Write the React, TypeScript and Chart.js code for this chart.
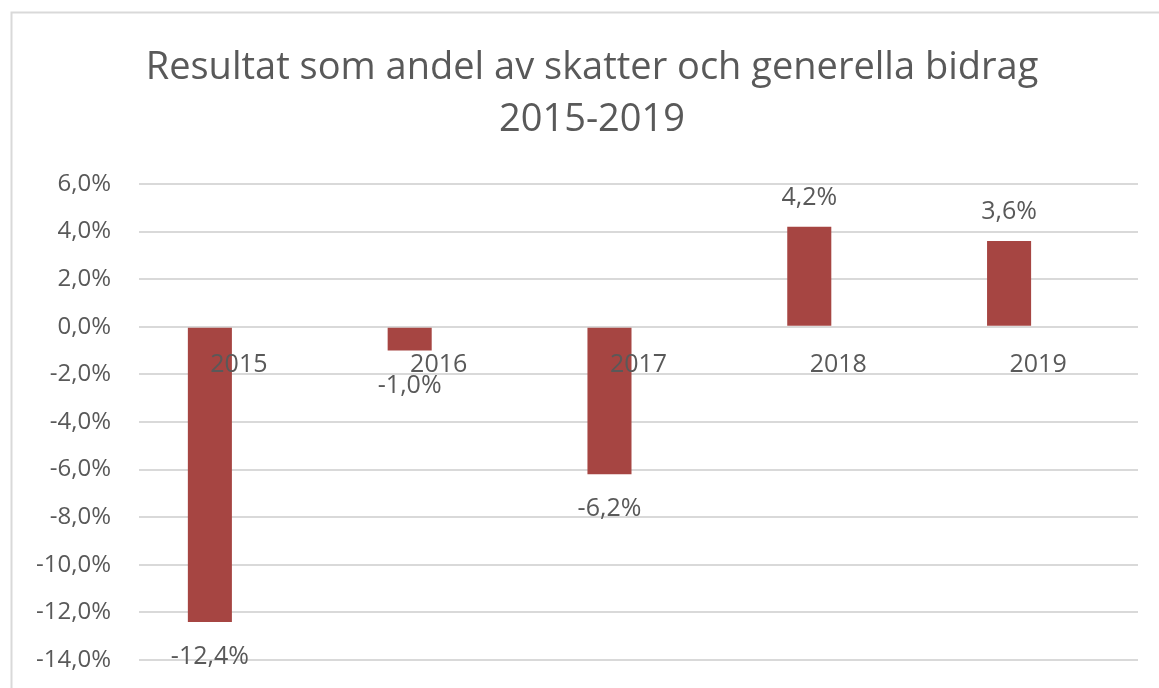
import React, { useEffect, useRef } from "react";
import { Chart, registerables } from "chart.js";

Chart.register(...registerables);

const categories = ["2015", "2016", "2017", "2018", "2019"];
const resultValues = [-12.4, -1.0, -6.2, 4.2, 3.6];
const emptySeries = [null, null, null, null, null];
const titleLines = ["Resultat som andel av skatter och generella bidrag", "2015-2019"];
const yMin = -14;
const yMax = 6;
const yStep = 2;

const TEXT = "#595959";
const GRID = "#D9D9D9";
const BAR = "#A64542";
const FONT = "'Open Sans', 'Noto Sans', sans-serif";

const fmt = (v: number) => v.toFixed(1).replace(".", ",") + "%";

const framePlugin = {
  id: "frame",
  afterLayout(chart: any) {
    // centre the title over the same span as the original (Excel) chart title
    if (chart.titleBlock) {
      chart.titleBlock.left = 46;
      chart.titleBlock.right = 1138;
    }
  },
  beforeDraw(chart: any) {
    const ctx = chart.ctx;
    ctx.save();
    ctx.fillStyle = "#ffffff";
    ctx.fillRect(0, 0, chart.width, chart.height);
    ctx.strokeStyle = GRID;
    ctx.lineWidth = 2;
    ctx.strokeRect(11.5, 12.5, 3000, 3000);
    ctx.restore();
  },
};

const dataLabelPlugin = {
  id: "dataLabels",
  afterDatasetsDraw(chart: any) {
    const ctx = chart.ctx;
    const meta = chart.getDatasetMeta(0);
    const ds = chart.data.datasets[0];
    ctx.save();
    ctx.fillStyle = TEXT;
    ctx.font = `25px ${FONT}`;
    ctx.textAlign = "center";
    ctx.textBaseline = "middle";
    meta.data.forEach((el: any, i: number) => {
      const v = ds.data[i] as number;
      const y = v >= 0 ? el.y - 29 : el.y + 35;
      ctx.fillText(fmt(v), el.x, y);
    });
    ctx.restore();
  },
};

export default function App() {
  const ref = useRef<HTMLCanvasElement>(null);
  useEffect(() => {
    document.body.style.margin = "0";
    const chart = new Chart(ref.current!, {
      type: "bar",
      data: {
        labels: categories,
        datasets: [
          {
            label: "Resultat",
            data: resultValues,
            backgroundColor: BAR,
            categoryPercentage: 0.581,
            barPercentage: 0.759,
          },
          {
            label: "",
            data: emptySeries as any,
            backgroundColor: BAR,
            categoryPercentage: 0.581,
            barPercentage: 0.759,
          },
        ],
      },
      options: {
        animation: false,
        responsive: false,
        devicePixelRatio: 1,
        layout: { padding: { top: 10, left: 0, right: 21, bottom: 28 } },
        plugins: {
          legend: { display: false },
          tooltip: { enabled: false },
          title: {
            display: true,
            text: titleLines,
            color: TEXT,
            font: { family: FONT, size: 38, weight: "normal", lineHeight: 52 / 38 },
            padding: { top: 32, bottom: 38 },
          },
        },
        scales: {
          x: {
            position: { y: 0 } as any,
            grid: { display: false },
            border: { display: false },
            afterFit(scale: any) {
              scale.height = 0;
            },
            ticks: {
              z: 1,
              color: TEXT,
              font: { family: FONT, size: 25 },
              padding: 15,
              maxRotation: 0,
            },
          },
          y: {
            min: yMin,
            max: yMax,
            grid: { color: GRID, lineWidth: 2, drawTicks: false },
            border: { display: false },
            afterFit(scale: any) {
              scale.width = 139;
              scale.paddingBottom = 0;
              scale.paddingTop = 0;
            },
            ticks: {
              stepSize: yStep,
              color: TEXT,
              font: { family: FONT, size: 24 },
              padding: 28,
              callback: (v: any) => fmt(Number(v)),
            },
          },
        },
      },
      plugins: [framePlugin, dataLabelPlugin],
    });
    return () => chart.destroy();
  }, []);
  return (
    <div style={{ width: 1159, height: 688 }}>
      <canvas ref={ref} width={1159} height={688} />
    </div>
  );
}
